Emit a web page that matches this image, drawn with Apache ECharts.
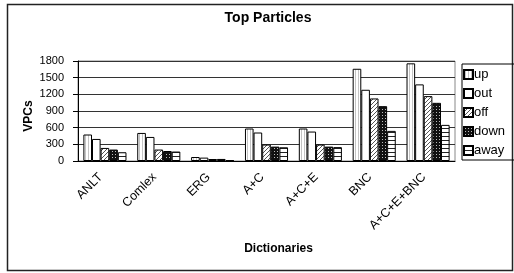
<!DOCTYPE html>
<html>
<head>
<meta charset="utf-8">
<script src="https://cdn.jsdelivr.net/npm/echarts@6/dist/echarts.min.js"></script>
<style>
  html, body { margin: 0; padding: 0; background: #fff; }
  #chart { width: 514px; height: 273px; }
</style>
</head>
<body>
<div id="chart"></div>
<script>
// values
const dictionaries = ["ANLT", "Comlex", "ERG", "A+C", "A+C+E", "BNC", "A+C+E+BNC"];
const upData = [477, 505, 72, 585, 585, 1660, 1758];
const outData = [397, 433, 61, 513, 530, 1282, 1379];
const offData = [235, 206, 36, 296, 296, 1126, 1168];
const downData = [206, 180, 37, 259, 259, 987, 1047];
const awayData = [157, 170, 12, 247, 250, 542, 650];
const yTicks = [0, 300, 600, 900, 1200, 1500, 1800];

// small fill patterns, like the old excel ones
function makePattern(w, h, bg, draw) {
    const c = document.createElement("canvas");
    c.width = w;
    c.height = h;
    const g = c.getContext("2d");
    g.fillStyle = bg;
    g.fillRect(0, 0, w, h);
    draw(g);
    return { image: c, repeat: "repeat" };
}

const fills = {
    up: makePattern(3, 1, "#fff", (g) => {
        g.fillStyle = "#c4c4c4";
        g.fillRect(1, 0, 1, 1);
    }),
    out: "#fff",
    off: makePattern(4, 4, "#fff", (g) => {
        g.fillStyle = "#555";
        g.fillRect(3, 0, 1, 1);
        g.fillRect(2, 1, 1, 1);
        g.fillRect(1, 2, 1, 1);
        g.fillRect(0, 3, 1, 1);
    }),
    down: makePattern(3, 3, "#111", (g) => {
        g.fillStyle = "#bbb";
        g.fillRect(1, 1, 1, 1);
    }),
    away: makePattern(1, 4, "#fff", (g) => {
        g.fillStyle = "#222";
        g.fillRect(0, 0, 1, 1);
    }),
};

const seriesList = [
    { name: "up", data: upData },
    { name: "out", data: outData },
    { name: "off", data: offData },
    { name: "down", data: downData },
    { name: "away", data: awayData },
];

const chart = echarts.init(document.getElementById("chart"), null, { renderer: "canvas" });

const option = {
    backgroundColor: "#fff",
    animation: false,
    textStyle: { fontFamily: "Liberation Sans", color: "#000" },
    title: {
        text: "Top Particles",
        left: 263,
        textAlign: "center",
        top: 6,
        textStyle: { fontSize: 14, fontWeight: "bold", color: "#000", fontFamily: "Liberation Sans" },
    },
    graphic: [
        {
            type: "rect",
            shape: { x: 7.5, y: 4.5, width: 505, height: 266 },
            style: { fill: "none", stroke: "#222", lineWidth: 1.5 },
            silent: true,
        },
        {
            // y axis title, placed by hand (axis name kept getting pushed left)
            type: "text",
            x: 29,
            y: 116,
            rotation: Math.PI / 2,
            style: {
                text: "VPCs",
                fill: "#000",
                font: "bold 12px 'Liberation Sans'",
                align: "center",
                verticalAlign: "middle",
            },
            silent: true,
        },
    ],
    legend: {
        orient: "vertical",
        left: 462,
        top: 64,
        icon: "rect",
        itemWidth: 9,
        itemHeight: 9,
        itemGap: 6,
        padding: [4, 16, 3, 1],
        borderColor: "#000",
        borderWidth: 1,
        textStyle: { fontSize: 13, color: "#000", padding: [0, 0, 0, -4] },
        data: seriesList.map((s) => s.name),
    },
    grid: {
        left: 78,
        right: 59,
        top: 61,
        bottom: 112,
        show: true,
        borderColor: "#888",
        borderWidth: 1,
    },
    xAxis: {
        type: "category",
        data: dictionaries,
        name: "Dictionaries",
        nameLocation: "middle",
        nameGap: 82,
        nameTextStyle: { fontSize: 12, fontWeight: "bold", color: "#000", padding: [0, 0, 0, 24] },
        axisLine: { lineStyle: { color: "#000" } },
        axisTick: { length: 5, lineStyle: { color: "#000" } },
        axisLabel: {
            rotate: 45,
            margin: 10,
            fontSize: 12.5,
            color: "#000",
            interval: 0,
            padding: [0, 6, 0, 0],
        },
    },
    yAxis: {
        type: "value",
        min: yTicks[0],
        max: yTicks[yTicks.length - 1],
        interval: yTicks[1] - yTicks[0],
        axisLine: { show: true, lineStyle: { color: "#000" } },
        axisTick: { show: true, length: 5, lineStyle: { color: "#000" } },
        axisLabel: { fontSize: 11, color: "#000", margin: 14, formatter: (v) => String(v) },
        splitLine: { lineStyle: { color: "#333", width: 1 } },
    },
    series: seriesList.map((s) => ({
        name: s.name,
        type: "bar",
        data: s.data,
        barGap: "0%",
        barCategoryGap: "20%",
        itemStyle: { color: fills[s.name], borderColor: "#000", borderWidth: 1 },
    })),
};

chart.setOption(option);
</script>
</body>
</html>
